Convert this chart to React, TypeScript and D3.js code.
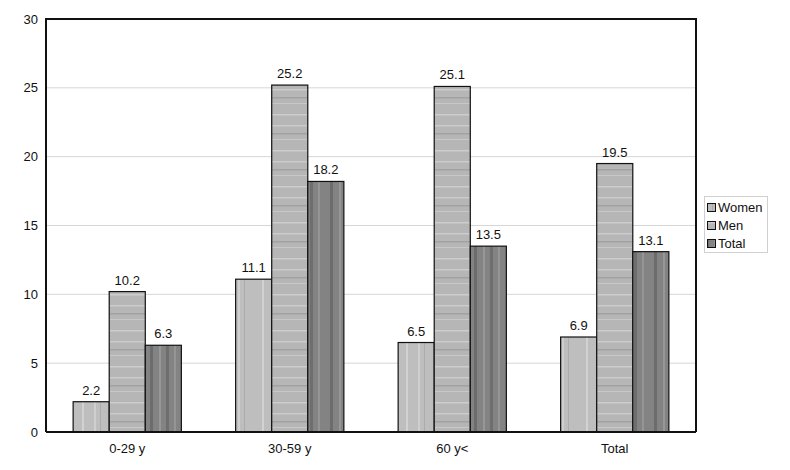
import React from "react";
import * as d3 from "d3";

const categories = ["0-29 y", "30-59 y", "60 y<", "Total"];
const seriesNames = ["Women", "Men", "Total"];
const women = [2.2, 11.1, 6.5, 6.9];
const men = [10.2, 25.2, 25.1, 19.5];
const total = [6.3, 18.2, 13.5, 13.1];
const yTicks = [0, 5, 10, 15, 20, 25, 30];

const W = 790, H = 470;
const L = 46, T = 19, R = 696, B = 432;

export default function App() {
  const series = [women, men, total];
  const x0 = d3.scaleBand<string>().domain(categories).range([L, R]).paddingInner(0.334).paddingOuter(0.167);
  const x1 = d3.scaleBand<string>().domain(seriesNames).range([0, x0.bandwidth()]);
  const y = d3.scaleLinear().domain([0, 30]).range([B, T]);
  const fills = ["url(#pW)", "url(#pM)", "url(#pT)"];
  const font = "Arial, 'Liberation Sans', sans-serif";
  return (
    <svg width={W} height={H} style={{ position: "absolute", left: 0, top: 0, background: "#fff" }} fontFamily={font}>
      <defs>
        <pattern id="pW" patternUnits="userSpaceOnUse" width="36" height="10">
          <rect width="36" height="10" fill="#bebebe" />
          <rect x="10" width="2" height="10" fill="#d2d2d2" />
          <rect x="22" width="2" height="10" fill="#cfcfcf" />
          <rect x="28" width="1" height="10" fill="#acacac" />
        </pattern>
        <pattern id="pM" patternUnits="userSpaceOnUse" width="10" height="36">
          <rect width="10" height="36" fill="#b6b6b6" />
          <rect y="6" width="10" height="1.5" fill="#cdcdcd" />
          <rect y="17" width="10" height="1.5" fill="#cbcbcb" />
          <rect y="25" width="10" height="1.5" fill="#a2a2a2" />
          <rect y="31" width="10" height="1" fill="#c8c8c8" />
        </pattern>
        <pattern id="pT" patternUnits="userSpaceOnUse" width="36" height="10">
          <rect width="36" height="10" fill="#838383" />
          <rect x="6" width="3" height="10" fill="#6c6c6c" />
          <rect x="15" width="2" height="10" fill="#979797" />
          <rect x="22" width="3" height="10" fill="#6e6e6e" />
          <rect x="30" width="2" height="10" fill="#959595" />
        </pattern>
      </defs>
      {yTicks.filter((t) => t > 0 && t < 30).map((t) => (
        <line key={t} x1={L} x2={R} y1={y(t)} y2={y(t)} stroke="#d6d6d6" strokeWidth={1} />
      ))}
      {yTicks.map((t) => (
        <text key={"l" + t} x={38} y={y(t)} dy="0.35em" textAnchor="end" fontSize={13} fill="#111">{t}</text>
      ))}
      {categories.map((c, ci) => (
        <g key={c}>
          {series.map((s, si) => {
            const bx = (x0(c) as number) + (x1(seriesNames[si]) as number);
            const bw = x1.bandwidth();
            return (
              <g key={si}>
                <rect x={bx} y={y(s[ci])} width={bw} height={B - y(s[ci])} fill={fills[si]} stroke="#111" strokeWidth={1.2} />
                <text x={bx + bw / 2} y={y(s[ci]) - 7} textAnchor="middle" fontSize={13} fill="#111">{s[ci].toFixed(1)}</text>
              </g>
            );
          })}
          <text x={(x0(c) as number) + x0.bandwidth() / 2} y={453} textAnchor="middle" fontSize={13} fill="#111">{c}</text>
        </g>
      ))}
      <path d={`M${L},${B}V${T}H${R}V${B}`} fill="none" stroke="#111" strokeWidth={2} />
      <line x1={L} x2={R} y1={B} y2={B} stroke="#111" strokeWidth={2} />
      <g>
        <rect x={704.5} y={196.5} width={63} height={56} fill="#fff" stroke="#d0d0d0" strokeWidth={1} />
        {seriesNames.map((n, i) => (
          <g key={n}>
            <rect x={707.5} y={203.5 + i * 18} width={8} height={8} fill={fills[i]} stroke="#111" strokeWidth={1} />
            <text x={718} y={207.5 + i * 18} dy="0.35em" fontSize={13} fill="#111">{n}</text>
          </g>
        ))}
      </g>
    </svg>
  );
}
